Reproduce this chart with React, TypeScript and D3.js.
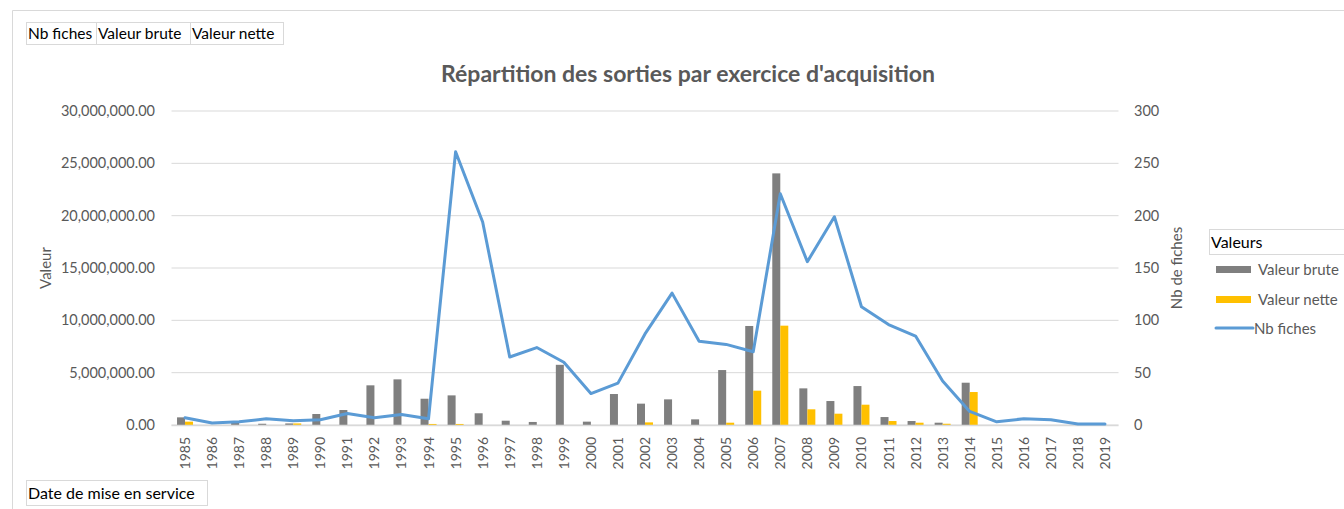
import React from "react";
import * as d3 from "d3";

const years: string[] = [
  "1985","1986","1987","1988","1989","1990","1991","1992","1993","1994",
  "1995","1996","1997","1998","1999","2000","2001","2002","2003","2004",
  "2005","2006","2007","2008","2009","2010","2011","2012","2013","2014",
  "2015","2016","2017","2018","2019",
];

const valeurBrute: number[] = [
  730000, 0, 200000, 120000, 150000, 1050000, 1430000, 3790000, 4360000, 2510000,
  2830000, 1120000, 410000, 290000, 5750000, 320000, 2960000, 2040000, 2450000, 540000,
  5250000, 9460000, 24040000, 3500000, 2290000, 3720000, 760000, 380000, 220000, 4040000,
  0, 0, 0, 0, 0,
];

const valeurNette: number[] = [
  320000, 0, 0, 0, 150000, 0, 0, 0, 0, 100000,
  100000, 0, 0, 0, 0, 0, 0, 250000, 0, 0,
  220000, 3280000, 9490000, 1500000, 1080000, 1940000, 380000, 220000, 120000, 3150000,
  0, 0, 0, 0, 0,
];

const nbFiches: number[] = [
  7, 2, 3, 6, 4, 5, 11, 7, 10, 6,
  261, 194, 65, 74, 60, 30, 40, 87, 126, 80,
  77, 70, 221, 156, 199, 113, 96, 85, 42, 13,
  3, 6, 5, 1, 1,
];

const leftTicks: number[] = [0, 5000000, 10000000, 15000000, 20000000, 25000000, 30000000];
const rightTicks: number[] = [0, 50, 100, 150, 200, 250, 300];

const FONT = "Lato, 'Open Sans', sans-serif";
const TXT = "#595959";
const GRID = "#d9d9d9";
const GRAY = "#7f7f7f";
const YELLOW = "#ffc000";
const BLUE = "#5b9bd5";

export default function App() {
  const W = 1344, H = 509;
  const x0 = 171.5, x1 = 1118.5, yTop = 111, yBot = 425;

  const x = d3.scaleBand<string>().domain(years).range([x0, x1]).paddingInner(0).paddingOuter(0);
  const yL = d3.scaleLinear().domain([0, 30000000]).range([yBot, yTop]);
  const yR = d3.scaleLinear().domain([0, 300]).range([yBot, yTop]);
  const bw = x.bandwidth();
  const barW = 8;

  const fmt = d3.format(",.2f");
  const line = d3
    .line<number>()
    .x((_, i) => (x(years[i]) as number) + bw / 2)
    .y((d) => yR(d));

  return (
    <svg
      width={W}
      height={H}
      style={{ position: "absolute", left: 0, top: 0, background: "#fff" }}
      fontFamily={FONT}
    >
      {/* chart border */}
      <path d={`M12.5,${H} L12.5,10.5 L${W},10.5`} fill="none" stroke="#d9d9d9" strokeWidth={1} />

      {/* field buttons */}
      {[
        { label: "Nb fiches", x: 26, w: 70 },
        { label: "Valeur brute", x: 96, w: 94 },
        { label: "Valeur nette", x: 190, w: 93 },
      ].map((b) => (
        <g key={b.label}>
          <rect x={b.x + 0.5} y={22.5} width={b.w} height={22} fill="#fff" stroke="#d9d9d9" />
          <text x={b.x + 2} y={39} fontSize={15.5} fill="#000">{b.label}</text>
        </g>
      ))}
      <rect x={26.5} y={480.5} width={181} height={25} fill="#fff" stroke="#d9d9d9" />
      <text x={28} y={499} fontSize={16} fill="#000">Date de mise en service</text>

      {/* title */}
      <text x={688} y={82} textAnchor="middle" fontSize={23} fontWeight="bold" fill={TXT}>
        Répartition des sorties par exercice d'acquisition
      </text>

      {/* gridlines */}
      {leftTicks.map((t) => (
        <line key={t} x1={x0} x2={x1} y1={yL(t)} y2={yL(t)} stroke={GRID} strokeWidth={1} />
      ))}

      {/* left ticks */}
      {leftTicks.map((t) => (
        <text key={t} x={155} y={yL(t) + 5} textAnchor="end" fontSize={14.5} fill={TXT}>
          {fmt(t)}
        </text>
      ))}
      {/* right ticks */}
      {rightTicks.map((t) => (
        <text key={t} x={1134} y={yR(t) + 5} textAnchor="start" fontSize={14.5} fill={TXT}>
          {t}
        </text>
      ))}

      {/* axis titles */}
      <text transform={`translate(51,268) rotate(-90)`} textAnchor="middle" fontSize={15} fill={TXT}>
        Valeur
      </text>
      <text transform={`translate(1182,268) rotate(-90)`} textAnchor="middle" fontSize={15} fill={TXT}>
        Nb de fiches
      </text>

      {/* bars */}
      {years.map((yr, i) => {
        const cx = (x(yr) as number) + bw / 2;
        return (
          <g key={yr}>
            {valeurBrute[i] > 0 && (
              <rect x={cx - barW} y={yL(valeurBrute[i])} width={barW} height={yBot - yL(valeurBrute[i])} fill={GRAY} />
            )}
            {valeurNette[i] > 0 && (
              <rect x={cx} y={yL(valeurNette[i])} width={barW} height={yBot - yL(valeurNette[i])} fill={YELLOW} />
            )}
          </g>
        );
      })}

      {/* x axis line */}
      <line x1={x0} x2={x1} y1={yBot + 0.5} y2={yBot + 0.5} stroke={GRID} strokeWidth={1.5} />

      {/* line series */}
      <path d={line(nbFiches) || ""} fill="none" stroke={BLUE} strokeWidth={3} strokeLinejoin="round" strokeLinecap="round" />

      {/* x tick labels */}
      {years.map((yr) => {
        const cx = (x(yr) as number) + bw / 2;
        return (
          <text
            key={yr}
            transform={`translate(${cx + 5},437) rotate(-90)`}
            textAnchor="end"
            fontSize={14}
            fill={TXT}
          >
            {yr}
          </text>
        );
      })}

      {/* legend */}
      <rect x={1209.5} y={229.5} width={140} height={25} fill="#fff" stroke="#d9d9d9" />
      <text x={1211} y={248} fontSize={16} fill="#000">Valeurs</text>
      <rect x={1216} y={266} width={35} height={7} fill={GRAY} />
      <text x={1258} y={274.5} fontSize={15} fill={TXT}>Valeur brute</text>
      <rect x={1216} y={296} width={35} height={7} fill={YELLOW} />
      <text x={1258} y={304.5} fontSize={15} fill={TXT}>Valeur nette</text>
      <line x1={1216} x2={1253} y1={328} y2={328} stroke={BLUE} strokeWidth={3} strokeLinecap="round" />
      <text x={1254} y={333.5} fontSize={15} fill={TXT}>Nb fiches</text>
    </svg>
  );
}
